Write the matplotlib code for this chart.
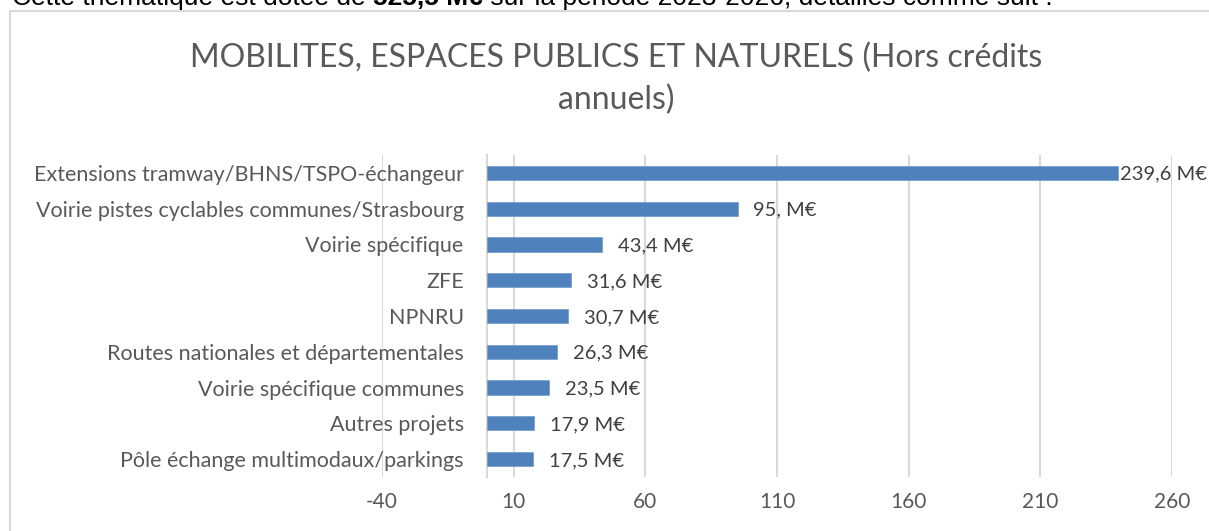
import matplotlib
matplotlib.use("Agg")
import matplotlib.pyplot as plt
from matplotlib.patches import Rectangle

categories = [
    "Extensions tramway/BHNS/TSPO-échangeur",
    "Voirie pistes cyclables communes/Strasbourg",
    "Voirie spécifique",
    "ZFE",
    "NPNRU",
    "Routes nationales et départementales",
    "Voirie spécifique communes",
    "Autres projets",
    "Pôle échange multimodaux/parkings",
]
values = [239.6, 95.0, 43.4, 31.6, 30.7, 26.3, 23.5, 17.9, 17.5]
value_labels = ["239,6 M€", "95, M€", "43,4 M€", "31,6 M€", "30,7 M€",
                "26,3 M€", "23,5 M€", "17,9 M€", "17,5 M€"]
xticks = [-40, 10, 60, 110, 160, 210, 260]
title = "MOBILITES, ESPACES PUBLICS ET NATURELS (Hors crédits\nannuels)"

FONT = "Lato"
GREY = "#595959"
BAR = "#4F81BD"
GRID = "#D9D9D9"

W, H = 1209, 531
fig = plt.figure(figsize=(W / 100, H / 100), dpi=100)
fig.patch.set_facecolor("white")

# chart frame (extends beyond the visible crop at right/bottom)
fig.patches.append(Rectangle((10 / W, -0.1), 1.2, 1 - 11 / H + 0.1,
                             transform=fig.transFigure, fill=False,
                             edgecolor=GRID, linewidth=1.5))

# cut-off document sentence at top
renderer = fig.canvas.get_renderer()
parts = [("Cette thématique est dotée de ", "normal"), ("525,5 M€", "bold"),
         (" sur la période 2023-2026, détaillés comme suit :", "normal")]
x0 = 12
for txt, wt in parts:
    t = fig.text(x0 / W, 1 - 5 / H, txt, family="Liberation Sans", fontsize=19,
                 fontweight=wt, color="black", va="baseline", ha="left")
    bb = t.get_window_extent(renderer)
    x0 += bb.width

ax = fig.add_axes([382 / W, 1 - 477 / H, (1172 - 382) / W, (477 - 155) / H])
y = list(range(len(categories)))
ax.barh(y, values, height=0.4, color=BAR, edgecolor="#7BA0CD", linewidth=0.6, zorder=3)

ax.set_xlim(-40, 260)
ax.set_ylim(len(categories) - 0.5, -0.5)
ax.set_xticks(xticks)
ax.set_xticklabels([str(v) for v in xticks])
ax.set_yticks(y)
ax.set_yticklabels(categories)
ax.grid(axis="x", color=GRID, linewidth=1.5, zorder=0)
ax.set_axisbelow(True)

for s in ["top", "right", "bottom"]:
    ax.spines[s].set_visible(False)
ax.spines["left"].set_position(("data", 0))
ax.spines["left"].set_color(GRID)
ax.spines["left"].set_linewidth(1.5)
ax.spines["left"].set_zorder(2)

ax.tick_params(axis="y", length=0, pad=17, labelsize=15.5, labelcolor=GREY)
ax.tick_params(axis="x", length=0, pad=11, labelsize=15, labelcolor=GREY)
for lab in ax.get_yticklabels() + ax.get_xticklabels():
    lab.set_family(FONT)

for i, (v, lab) in enumerate(zip(values, value_labels)):
    off = 1 if v > 200 else 11.5
    ax.annotate(lab, (v, i), xytext=(off, -1), textcoords="offset points",
                va="center", ha="left", fontsize=14.5, color="#404040",
                family=FONT, annotation_clip=False)

fig.text(616 / W, 1 - 79 / H, title, ha="center", va="center", fontsize=23,
         color=GREY, family=FONT, fontweight="normal", linespacing=1.45)

fig.savefig("out.png", dpi=100)
